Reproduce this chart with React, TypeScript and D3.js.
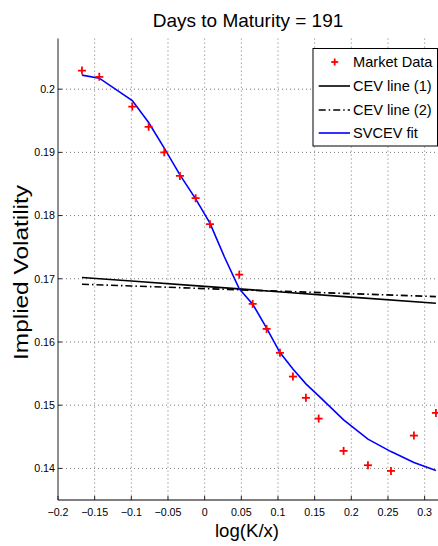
import React from "react";
import * as d3 from "d3";

// log-moneyness of each strike and the quoted implied vol
const marketX = [
  -0.1673, -0.1437, -0.0987, -0.0764, -0.0551, -0.0337, -0.0123, 0.0072, 0.0472, 0.0655,
  0.0845, 0.1027, 0.1204, 0.1381, 0.1555, 0.1895, 0.2227, 0.2541, 0.2854, 0.3154,
];
const marketIV = [
  0.20294, 0.20195, 0.19725, 0.19404, 0.19, 0.18628, 0.18275, 0.17864, 0.17066, 0.16603,
  0.16207, 0.15828, 0.15453, 0.15116, 0.14788, 0.14277, 0.1405, 0.1396, 0.14519, 0.14878,
];

// SVCEV fit
const fitX = [
  -0.1673, -0.1437, -0.0987, -0.0764, -0.0551, -0.0337, -0.0123, 0.0072, 0.027, 0.0472,
  0.0655, 0.0845, 0.1027, 0.1204, 0.1381, 0.1555, 0.1895, 0.2227, 0.2541, 0.2854, 0.3154,
];
const fitIV = [
  0.20222, 0.20174, 0.1982, 0.19472, 0.19066, 0.18644, 0.18264, 0.1788, 0.17345, 0.1684,
  0.16598, 0.16218, 0.15832, 0.15574, 0.15337, 0.15147, 0.14767, 0.14462, 0.14266, 0.14092,
  0.13965,
];

// CEV lines
const cevX = [-0.1673, -0.1, 0, 0.1, 0.2, 0.3154];
const cev1IV = [0.1702, 0.16965, 0.1688, 0.16795, 0.1671, 0.16614];
const cev2IV = [0.16914, 0.16886, 0.16845, 0.16804, 0.16764, 0.16718];

const xTicks = [-0.2, -0.15, -0.1, -0.05, 0, 0.05, 0.1, 0.15, 0.2, 0.25, 0.3];
const yTicks = [0.14, 0.15, 0.16, 0.17, 0.18, 0.19, 0.2];

const legendLabels = ["Market Data", "CEV line (1)", "CEV line (2)", "SVCEV fit"];

const W = 438;
const H = 546;
const margin = { top: 38.6, right: -1.3, bottom: 46, left: 58 };
const font = "'Liberation Sans', Arial, Helvetica, sans-serif";

const fmt = (v: number) => (v < 0 ? "\u2212" + String(-v) : String(v));

const Plus = ({ x, y, r = 4 }: { x: number; y: number; r?: number }) => (
  <g stroke="#ff0000" strokeWidth={1.8}>
    <line x1={x - r} x2={x + r} y1={y} y2={y} />
    <line x1={x} x2={x} y1={y - r} y2={y + r} />
  </g>
);

export default function App() {
  const x = d3
    .scaleLinear()
    .domain([-0.2, 0.32])
    .range([margin.left, W - margin.right]);
  const y = d3
    .scaleLinear()
    .domain([0.135, 0.208])
    .range([H - margin.bottom, margin.top]);

  const line = d3
    .line<[number, number]>()
    .x((d) => x(d[0]))
    .y((d) => y(d[1]));

  const fitPath = line(fitX.map((v, i) => [v, fitIV[i]]) as [number, number][]) || "";
  const cev1Path = line(cevX.map((v, i) => [v, cev1IV[i]]) as [number, number][]) || "";
  const cev2Path = line(cevX.map((v, i) => [v, cev2IV[i]]) as [number, number][]) || "";

  const x0 = x.range()[0];
  const x1 = x.range()[1];
  const yb = y.range()[0];
  const yt = y.range()[1];

  // legend box
  const lg = { x: 313, y: 48.5, w: 124.5, h: 97.5 };
  const rowY = [62, 86, 110, 133];

  return (
    <svg
      width={W}
      height={H}
      style={{ position: "absolute", left: 0, top: 0, background: "#fff" }}
      fontFamily={font}
    >
      <defs>
        <clipPath id="plot">
          <rect x={x0} y={yt - 6} width={x1 - x0} height={yb - yt + 6} />
        </clipPath>
      </defs>

      {/* grid */}
      <g stroke="#777" strokeWidth={1} strokeDasharray="1,3">
        {xTicks
          .filter((t) => t > -0.2)
          .map((t) => (
            <line key={"gx" + t} x1={x(t)} x2={x(t)} y1={yt} y2={yb} />
          ))}
        {yTicks.map((t) => (
          <line key={"gy" + t} x1={x0} x2={x1} y1={y(t)} y2={y(t)} />
        ))}
      </g>

      {/* axes */}
      <line x1={x0} x2={x0} y1={yt} y2={yb} stroke="#444" strokeWidth={1.2} />
      <line x1={x0} x2={x1} y1={yb} y2={yb} stroke="#000" strokeWidth={1.2} />
      <g stroke="#222" strokeWidth={1}>
        {xTicks.map((t) => (
          <line key={"tx" + t} x1={x(t)} x2={x(t)} y1={yb} y2={yb - 4} />
        ))}
        {yTicks.map((t) => (
          <line key={"ty" + t} x1={x0} x2={x0 + 4} y1={y(t)} y2={y(t)} />
        ))}
      </g>

      {/* tick labels */}
      <g fontSize={10.7} fill="#000">
        {xTicks.map((t) => (
          <text key={"lx" + t} x={x(t)} y={516} textAnchor="middle">
            {fmt(t)}
          </text>
        ))}
        {yTicks.map((t) => (
          <text key={"ly" + t} x={55} y={y(t)} dy="0.36em" textAnchor="end">
            {fmt(t)}
          </text>
        ))}
      </g>

      {/* series */}
      <g clipPath="url(#plot)" fill="none">
        <path d={cev1Path} stroke="#000" strokeWidth={1.6} />
        <path d={cev2Path} stroke="#000" strokeWidth={1.6} strokeDasharray="7,3,1.5,3" />
        <path d={fitPath} stroke="#0000ff" strokeWidth={1.6} />
        {marketX.map((v, i) => (
          <Plus key={"m" + i} x={x(v)} y={y(marketIV[i])} />
        ))}
      </g>

      {/* legend */}
      <rect x={lg.x} y={lg.y} width={lg.w} height={lg.h} fill="#fff" stroke="#000" strokeWidth={1} />
      <Plus x={334.7} y={rowY[0]} r={3.5} />
      <line x1={318.7} x2={350} y1={rowY[1]} y2={rowY[1]} stroke="#000" strokeWidth={1.6} />
      <line
        x1={318.7}
        x2={350}
        y1={rowY[2]}
        y2={rowY[2]}
        stroke="#000"
        strokeWidth={1.6}
        strokeDasharray="7,3,1.5,3"
      />
      <line x1={318.7} x2={350} y1={rowY[3]} y2={rowY[3]} stroke="#0000ff" strokeWidth={1.6} />
      <g fontSize={14.6} fill="#000">
        {legendLabels.map((s, i) => (
          <text key={s} x={353} y={rowY[i]} dy="0.36em">
            {s}
          </text>
        ))}
      </g>

      {/* title and axis labels */}
      <text x={248} y={27} textAnchor="middle" fontSize={19} fill="#000">
        Days to Maturity = 191
      </text>
      <text x={247} y={537} textAnchor="middle" fontSize={18.6} fill="#000">
        log(K/x)
      </text>
      <text
        transform="translate(28,272.5) rotate(-90)"
        textAnchor="middle"
        fontSize={20}
        fill="#000"
        textLength={175}
        lengthAdjust="spacingAndGlyphs"
      >
        Implied Volatility
      </text>
    </svg>
  );
}
